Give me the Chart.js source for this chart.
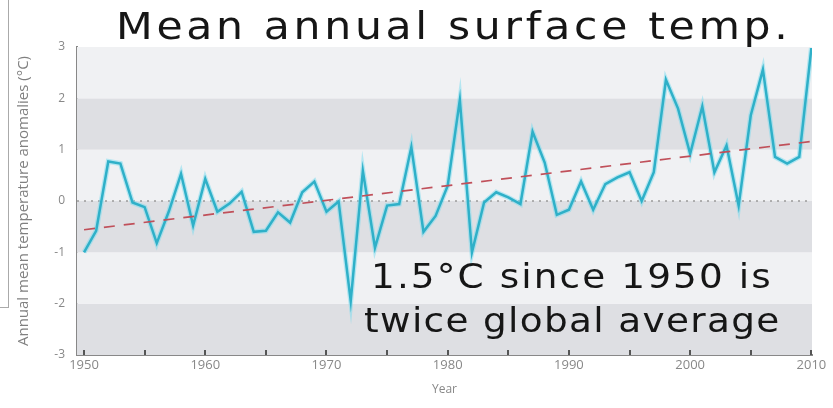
<!DOCTYPE html>
<html><head><meta charset="utf-8">
<script src="https://cdn.jsdelivr.net/npm/chart.js@4.4.1/dist/chart.umd.min.js"></script>
<style>
html,body{margin:0;padding:0;background:#fff;}
#wrap{position:relative;width:833px;height:408px;overflow:hidden;}
canvas{position:absolute;left:0;top:0;}
.t{position:absolute;font-family:"DejaVu Sans",Verdana,sans-serif;color:#161616;white-space:nowrap;line-height:1;transform-origin:0 0;}
#frame{position:absolute;left:-6px;top:-6px;width:13px;height:312px;border:1px solid #aaa;}
</style></head>
<body><div id="wrap">
<canvas id="c" width="833" height="408"></canvas>
<div id="frame"></div>
<div class="t" style="left:116px;top:8px;font-size:37px;letter-spacing:3.2px;transform:scaleX(1.15);">Mean annual surface temp.</div>
<div class="t" style="left:371px;top:259px;font-size:34px;letter-spacing:1.9px;transform:scaleX(1.1);">1.5°C since 1950 is</div>
<div class="t" style="left:364px;top:303px;font-size:34px;letter-spacing:1.2px;transform:scaleX(1.1);">twice global average</div>
</div>
<script>
const years = [1950,1951,1952,1953,1954,1955,1956,1957,1958,1959,1960,1961,1962,1963,1964,1965,1966,1967,1968,1969,1970,1971,1972,1973,1974,1975,1976,1977,1978,1979,1980,1981,1982,1983,1984,1985,1986,1987,1988,1989,1990,1991,1992,1993,1994,1995,1996,1997,1998,1999,2000,2001,2002,2003,2004,2005,2006,2007,2008,2009,2010];
const anomalies = [-1.0,-0.58,0.77,0.73,-0.03,-0.12,-0.82,-0.2,0.53,-0.48,0.43,-0.21,-0.05,0.18,-0.6,-0.58,-0.22,-0.42,0.17,0.38,-0.21,-0.01,-1.95,0.59,-0.91,-0.09,-0.06,1.05,-0.6,-0.29,0.3,1.97,-1.0,-0.03,0.17,0.07,-0.06,1.35,0.75,-0.27,-0.17,0.38,-0.17,0.33,0.46,0.56,0.0,0.56,2.36,1.8,0.92,1.84,0.56,1.08,-0.09,1.67,2.56,0.86,0.73,0.86,2.98];
const trendYears = [1950, 2010];
const trendValues = [-0.56, 1.16];
const zeroYears = [1949.42, 2010.05];
const zeroValues = [0, 0];
const xTickValues = [1950,1955,1960,1965,1970,1975,1980,1985,1990,1995,2000,2005,2010];
const xTickLabels = ['1950','','1960','','1970','','1980','','1990','','2000','','2010'];
const yTickValues = [-3,-2,-1,0,1,2,3];
const yTickLabels = ['-3','-2','-1','0','1','2','3'];
const xTitle = 'Year';
const yTitle = 'Annual mean temperature anomalies (°C)';

const bands = {
  id:'bands',
  beforeDatasetsDraw(chart){
    const {ctx, chartArea:a, scales:{y}} = chart;
    ctx.save();
    for(let v=-3; v<3; v++){
      const top = y.getPixelForValue(v+1), bot = y.getPixelForValue(v);
      ctx.fillStyle = (Math.abs(v) % 2 === 1) ? '#dedfe3' : '#f0f1f3';
      ctx.fillRect(a.left, top, a.right-a.left, bot-top);
    }
    ctx.restore();
  },
  afterDatasetsDraw(chart){
    const {ctx, chartArea:a, scales:{x}} = chart;
    ctx.save();
    ctx.strokeStyle = '#555';
    ctx.lineWidth = 2;
    xTickValues.forEach(v=>{
      const px = Math.round(x.getPixelForValue(v));
      ctx.beginPath(); ctx.moveTo(px, a.bottom); ctx.lineTo(px, a.bottom-5); ctx.stroke();
    });
    ctx.restore();
  }
};

new Chart(document.getElementById('c'), {
  type:'line',
  data:{datasets:[
    {data: zeroYears.map((x,i)=>({x, y:zeroValues[i]})), borderColor:'#9a9a9a', borderWidth:1.5, borderDash:[2,5], pointRadius:0, order:3},
    {data: years.map((x,i)=>({x, y:anomalies[i]})), borderColor:'rgba(120,220,240,0.5)', borderWidth:5, pointRadius:0, tension:0, order:2},
    {data: years.map((x,i)=>({x, y:anomalies[i]})), borderColor:'#2fb0c8', borderWidth:2.5, pointRadius:0, tension:0, order:1},
    {data: trendYears.map((x,i)=>({x, y:trendValues[i]})), borderColor:'#c0505a', borderWidth:1.7, borderDash:[11,9], pointRadius:0, order:0}
  ]},
  options:{
    responsive:false, animation:false,
    layout:{padding:{left:0, top:47, right:21, bottom:11}},
    plugins:{legend:{display:false}, tooltip:{enabled:false}},
    scales:{
      x:{type:'linear', min:1949.42, max:2010.05,
        afterBuildTicks(s){ s.ticks = xTickValues.map(v=>({value:v})); },
        afterFit(s){ s.height = 42; },
        grid:{display:false, drawTicks:false},
        border:{display:true, color:'#888', width:2},
        ticks:{autoSkip:false, maxRotation:0, padding:2, color:'#888', font:{family:'"Open Sans", sans-serif', size:13},
          callback(v){ const i = xTickValues.indexOf(v); return i>=0 ? xTickLabels[i] : ''; }},
        title:{display:true, text:xTitle, color:'#888', font:{family:'"Open Sans", sans-serif', size:12}, padding:{top:0,bottom:0}}
      },
      y:{min:-3, max:3,
        afterBuildTicks(s){ s.ticks = yTickValues.map(v=>({value:v})); },
        afterFit(s){ s.width = 77; },
        grid:{display:false, drawTicks:false},
        border:{display:true, color:'#888', width:2},
        ticks:{padding:12, color:'#888', font:{family:'"Open Sans", sans-serif', size:12},
          callback(v){ const i = yTickValues.indexOf(v); return i>=0 ? yTickLabels[i] : ''; }},
        title:{display:true, text:yTitle, color:'#808080', font:{family:'"Open Sans", sans-serif', size:15}, padding:{top:15,bottom:0}}
      }
    }
  },
  plugins:[bands]
});
</script>
</body></html>
